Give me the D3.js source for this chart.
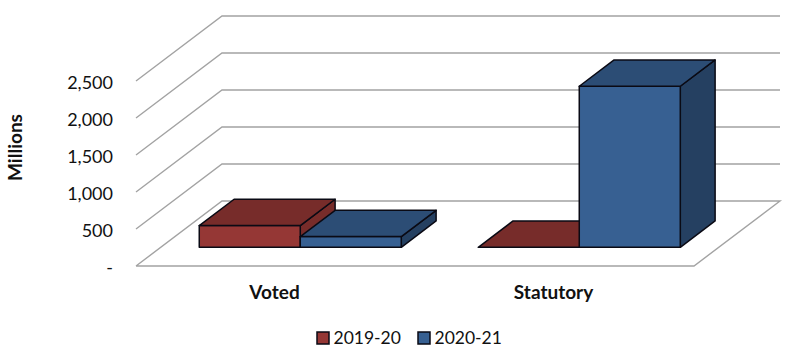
<!DOCTYPE html>
<html>
<head>
<meta charset="utf-8">
<script src="https://cdn.jsdelivr.net/npm/d3@7"></script>
<style>
  html, body { margin: 0; padding: 0; background: #fff; }
  svg { display: block; }
  text { font-family: Lato, "Open Sans", sans-serif; fill: #111; }
</style>
</head>
<body>
<svg id="chart" width="791" height="359"></svg>
<script>
const categories = ['Voted', 'Statutory'];
const seriesNames = ['2019-20', '2020-21'];
const values2019 = [293, 0];
const values2020 = [144, 2176];
const yTicks = [0, 500, 1000, 1500, 2000, 2500];
const seriesValues = [values2019, values2020];

const palette = [
  { front: '#953735', top: '#772c2a', side: '#772c2a' },
  { front: '#376092', top: '#2c4d75', side: '#254061' }
];

const svg = d3.select('#chart');

// front plane of the floor, the walls are this shifted back by (depthX, depthY)
const x = d3.scaleBand().domain(categories).range([136, 694]);
const xSeries = d3.scaleBand().domain(d3.range(seriesNames.length))
  .range([0, x.bandwidth()]).paddingOuter(0.381).paddingInner(0);
const y = d3.scaleLinear().domain([0, 2500]).range([266, 81]);
const depthX = d3.scaleLinear().domain([0, 1]).range([0, 86]);
const depthY = d3.scaleLinear().domain([0, 1]).range([0, -65]);
const barNear = 0.288, barFar = 0.693;

const pt = (px, py, d) => [px + depthX(d), py + depthY(d)];
const path = pts => 'M' + pts.map(p => p.join(',')).join('L') + 'Z';

// walls and floor
const grid = svg.append('g').attr('fill', 'none').attr('stroke', '#a3a3a3').attr('stroke-width', 1.4);
yTicks.forEach(t => {
  const line = [pt(136, y(t), 0), pt(136, y(t), 1), pt(694, y(t), 1)];
  if (t === 0) line.push(pt(694, y(t), 0), pt(136, y(t), 0));
  grid.append('path').attr('d', d3.line()(line));
});

// bars
const bars = svg.append('g').attr('stroke', '#0a0a14').attr('stroke-width', 1.5).attr('stroke-linejoin', 'round');
seriesNames.forEach((name, s) => {
  categories.forEach((cat, c) => {
    const v = seriesValues[s][c];
    const x0 = x(cat) + xSeries(s);
    const x1 = x0 + xSeries.bandwidth();
    const yb = y(0), yt = y(v);
    const col = palette[s];
    if (v > 0) {
      bars.append('path').attr('fill', col.side)
        .attr('d', path([pt(x1, yb, barNear), pt(x1, yb, barFar), pt(x1, yt, barFar), pt(x1, yt, barNear)]));
      bars.append('path').attr('fill', col.front)
        .attr('d', path([pt(x0, yb, barNear), pt(x1, yb, barNear), pt(x1, yt, barNear), pt(x0, yt, barNear)]));
    }
    bars.append('path').attr('fill', col.top)
      .attr('d', path([pt(x0, yt, barNear), pt(x1, yt, barNear), pt(x1, yt, barFar), pt(x0, yt, barFar)]));
  });
});

// y axis labels
const fmt = d3.format(',');
const yAxis = d3.axisLeft(y).tickValues(yTicks).tickSize(0).tickPadding(0)
  .tickFormat(d => d === 0 ? '-' : fmt(d));
svg.append('g').attr('transform', 'translate(113,2)').call(yAxis)
  .call(g => g.select('.domain').remove())
  .selectAll('text').style('font-size', '18px').style('font-family', 'Lato');

// category labels
const xAxis = d3.axisBottom(x).tickSize(0).tickPadding(0);
svg.append('g').attr('transform', 'translate(-1,285)').call(xAxis)
  .call(g => g.select('.domain').remove())
  .selectAll('text').style('font-size', '19px').style('font-weight', 700).style('font-family', 'Lato');

svg.append('text')
  .attr('transform', 'translate(22,147.5) rotate(-90)')
  .attr('text-anchor', 'middle')
  .style('font-size', '19px').style('font-weight', 700)
  .text('Millions');

// legend
const legendX = [317, 418];
const legend = svg.append('g');
seriesNames.forEach((name, s) => {
  legend.append('rect').attr('x', legendX[s]).attr('y', 332).attr('width', 12).attr('height', 12)
    .attr('fill', palette[s].front).attr('stroke', '#0a0a14').attr('stroke-width', 1.5);
  legend.append('text').attr('x', legendX[s] + 16.5).attr('y', 343.5)
    .style('font-size', '17.5px').text(name);
});
</script>
</body>
</html>
